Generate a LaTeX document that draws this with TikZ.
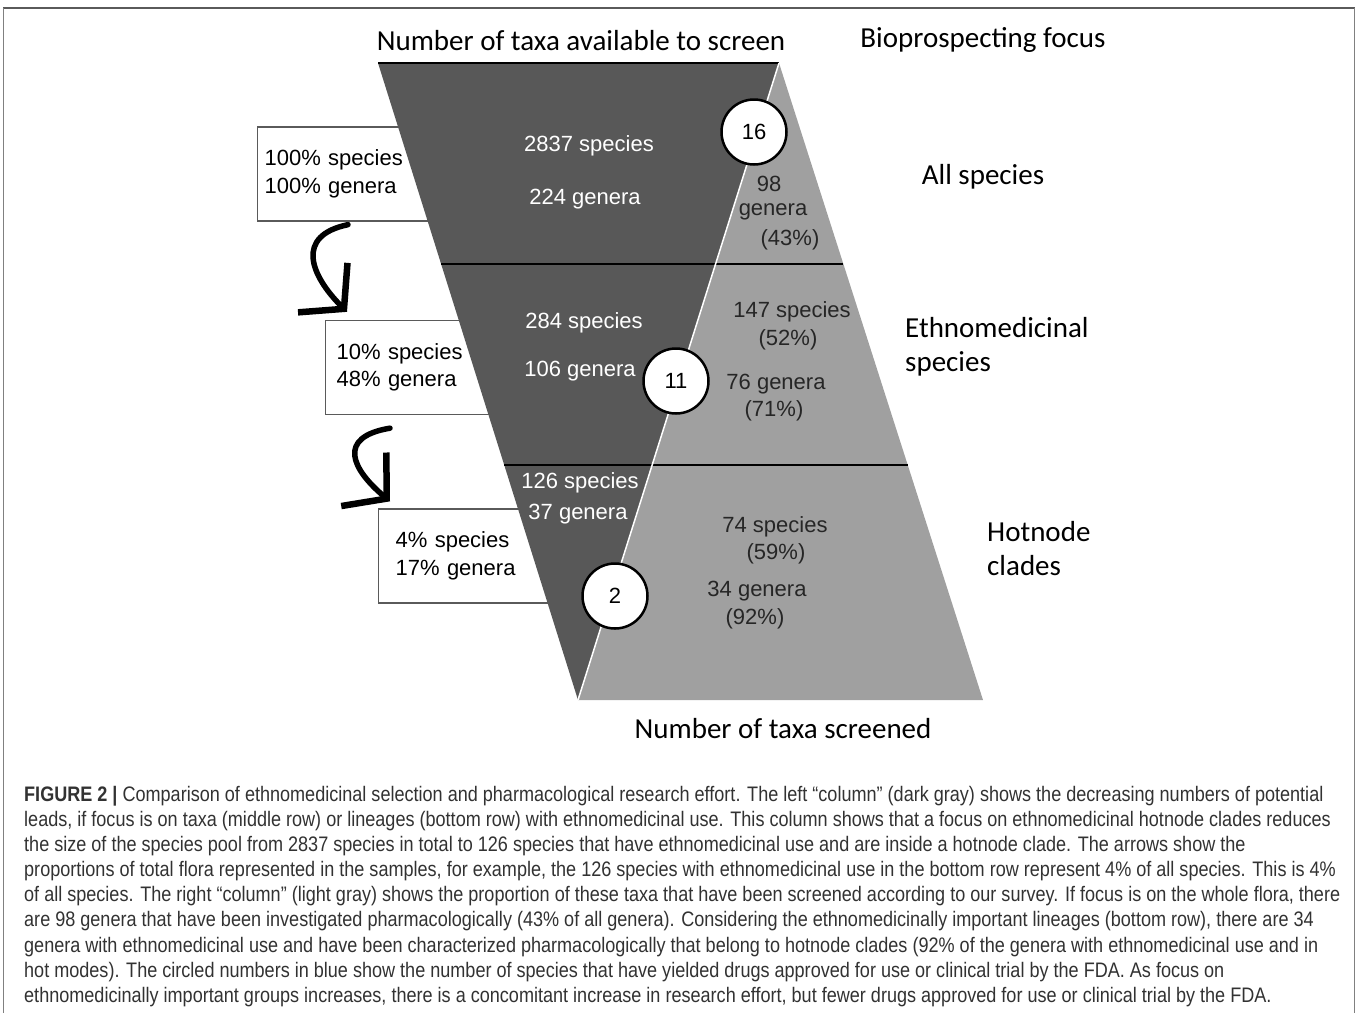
\documentclass[tikz,border=0pt]{standalone}
\usepackage{fontspec}
\setmainfont{Liberation Sans}
\newfontfamily\headfont{Carlito}
\newfontfamily\capfont[FakeStretch=0.86]{Liberation Sans}
\usetikzlibrary{positioning,arrows.meta,calc}
\definecolor{darkfill}{RGB}{88,88,88}
\definecolor{lightfill}{RGB}{160,160,160}
\definecolor{framegray}{RGB}{90,90,90}
\definecolor{captext}{RGB}{50,50,50}

\begin{document}
\begin{tikzpicture}[x=1pt,y=-1pt,
  head/.style={font=\headfont\fontsize{29}{34}\selectfont, inner sep=0pt},
  inval/.style={font=\fontsize{22}{27.5}\selectfont, text=white, inner sep=0pt},
  outval/.style={font=\fontsize{22}{27.5}\selectfont, text=black!85, inner sep=0pt},
  sharebox/.style={draw=framegray, line width=1.3pt, fill=white, anchor=west, text width=175pt,
    align=left, minimum height=94pt, inner ysep=0pt, font=\fontsize{22}{27.5}\selectfont},
  drugs/.style={circle, draw, line width=2.5pt, fill=white, minimum size=65pt, inner sep=0pt,
    font=\fontsize{22}{27}\selectfont},
  curly/.style={line width=5.5pt, line cap=round,
    -{Straight Barb[length=30pt,width=70pt,line width=6.5pt]}}
]
\useasboundingbox (0,0) rectangle (1358,1013);

% Frame
\draw[framegray, line width=2.5pt] (3,8) -- (1355,8);
\draw[gray, line width=1.2pt] (3.5,8) -- (3.5,1013);
\draw[gray, line width=1.2pt] (1354.5,8) -- (1354.5,1013);

% Share boxes (behind the funnel)
\node[sharebox, inner xsep=7pt] (b1) at (257,174) {100\% species\\100\% genera};
\node[sharebox, inner xsep=11pt] (b2) at (325,367.5) {10\% species\\48\% genera};
\node[sharebox, inner xsep=17pt] (b3) at (378,556) {4\% species\\17\% genera};

% Arrows between boxes
\draw[curly] ($(b1.south west)+(91,3)$) .. controls +(-53,11) and +(-37,-37) .. ($(b2.north west)+(22,-8)$);
\draw[curly] ($(b2.south west)+(65,13)$) .. controls +(-54,9) and +(-38,-32) .. ($(b3.north west)+(12,-7)$);

% Funnel
\coordinate (tl) at (378,63);
\coordinate (tr) at (779,63);
\coordinate (apex) at (578,700);
\coordinate (br) at (983,700);
\fill[darkfill] (tl) -- (tr) -- (apex) -- cycle;
\fill[lightfill] (tr) -- (br) -- (apex) -- cycle;
\draw[line width=1.2pt] (tl) -- (tr);
\draw[line width=1.5pt] ($(tl)!0.3155!(apex)$) -- ($(tr)!0.3155!(br)$);
\draw[line width=1.5pt] ($(tl)!0.631!(apex)$) -- ($(tr)!0.631!(br)$);
\draw[white, line width=1.5pt] (tr) -- (apex);

% Available taxa
\node[inval] (s1) at (589,146) {2837 species};
\node[inval] (g1) at (585,199) {224 genera};
\node[inval] (s2) at (584,323) {284 species};
\node[inval] (g2) at (580,371) {106 genera};
\node[inval] (s3) at (580,483) {126 species};
\node[inval] (g3) at (578,514) {37 genera};

% Screened taxa
\node[outval] (n98) at (769,184) {98};
\node[outval] (n98g) at (773,212) {genera};
\node[outval] (n98p) at (790,240) {(43\%)};
\node[outval] (n147) at (792,312) {147 species};
\node[outval] (n147p) at (788,340) {(52\%)};
\node[outval] (n76) at (776,384) {76 genera};
\node[outval] (n76p) at (774,411) {(71\%)};
\node[outval] (n74) at (775,527) {74 species};
\node[outval] (n74p) at (776,554) {(59\%)};
\node[outval] (n34) at (757,591) {34 genera};
\node[outval] (n34p) at (755,619) {(92\%)};

% Approved drugs
\node[drugs] (d16) at (754,132) {16};
\node[drugs] (d11) at (676,381) {11};
\node[drugs] (d2) at (615,596) {2};

% Headings
\node[head] (avail) at (581,41) {Number of taxa available to screen};
\node[head] (focus) at (983,40) {Bioprospecting focus};
\node[head] (allsp) at (983,177) {All species};
\node[head, anchor=west, align=left] (ethno) at (905,347) {Ethnomedicinal\\species};
\node[head, anchor=west, align=left] (hot) at (987,549) {Hotnode\\clades};
\node[head] (screened) at (783,729) {Number of taxa screened};

% Caption
\node[anchor=north west, inner sep=0pt, align=left, text=captext,
  font=\capfont\fontsize{21}{25.1}\selectfont] (cap) at (24,786) {%
\textbf{FIGURE 2 |} Comparison of ethnomedicinal selection and pharmacological research effort. The left “column” (dark gray) shows the decreasing numbers of potential\\
leads, if focus is on taxa (middle row) or lineages (bottom row) with ethnomedicinal use. This column shows that a focus on ethnomedicinal hotnode clades reduces\\
the size of the species pool from 2837 species in total to 126 species that have ethnomedicinal use and are inside a hotnode clade. The arrows show the\\
proportions of total flora represented in the samples, for example, the 126 species with ethnomedicinal use in the bottom row represent 4\% of all species. This is 4\%\\
of all species. The right “column” (light gray) shows the proportion of these taxa that have been screened according to our survey. If focus is on the whole flora, there\\
are 98 genera that have been investigated pharmacologically (43\% of all genera). Considering the ethnomedicinally important lineages (bottom row), there are 34\\
genera with ethnomedicinal use and have been characterized pharmacologically that belong to hotnode clades (92\% of the genera with ethnomedicinal use and in\\
hot modes). The circled numbers in blue show the number of species that have yielded drugs approved for use or clinical trial by the FDA. As focus on\\
ethnomedicinally important groups increases, there is a concomitant increase in research effort, but fewer drugs approved for use or clinical trial by the FDA.};
\end{tikzpicture}
\end{document}
